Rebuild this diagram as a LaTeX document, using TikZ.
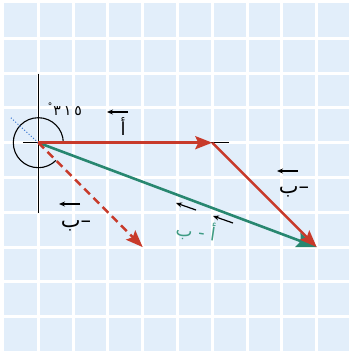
\documentclass[tikz,border=0pt]{standalone}
\usepackage{fontspec}
\newfontfamily\arabicfont[Script=Arabic]{DejaVu Sans}
\TeXXeTstate=1
\usetikzlibrary{arrows.meta,calc}
\definecolor{gridblue}{RGB}{226,238,250}
\definecolor{vred}{RGB}{200,58,42}
\definecolor{vgreen}{RGB}{40,135,112}
\definecolor{lgreen}{RGB}{62,155,132}
\definecolor{dotblue}{RGB}{60,120,210}
\tikzset{
  axisline/.style={black, line width=1.1pt},
  redvec/.style={vred, line width=2.6pt, -{Stealth[length=17pt,width=13pt,inset=3pt]}},
  greenvec/.style={vgreen, line width=2.6pt, -{Stealth[length=20pt,width=15pt,inset=3pt]}},
  lbl/.style={font=\arabicfont\fontsize{18}{21}\selectfont, inner sep=0pt},
  blbl/.style={font=\arabicfont\fontsize{21}{24}\selectfont, inner sep=0pt},
  anglbl/.style={font=\arabicfont\fontsize{14}{16}\selectfont, inner sep=0pt},
  lblarrow/.style={black, line width=1.2pt, -{Stealth[length=6pt,width=5pt]}},
  gridline/.style={white, line width=3pt}
}
\begin{document}
\begin{tikzpicture}[x=1pt,y=-1pt]
\useasboundingbox (0,0) rectangle (349,353);
\fill[gridblue] (4,3.5) rectangle (349,351);
\foreach \k in {0,...,8}{
  \draw[gridline] ({38.3+34.8*\k},3.5) -- ({38.3+34.8*\k},351);
  \draw[gridline] (4,{38.3+34.8*\k}) -- (349,{38.3+34.8*\k});
}
\coordinate (O) at (38.3,142.7);
\coordinate (A) at (212.3,142.7);
\coordinate (B) at (316.7,247.1);
\coordinate (D) at (142.7,247.1);
\coordinate (vtop) at (38.3,73.5);
\coordinate (vbot) at (38.3,213);
\coordinate (hl) at (23,142.7);
\coordinate (hr) at (229,142.7);
\coordinate (dl) at (10,117);
\coordinate (arcstart) at (63.3,142.7);
% axes and angle
\draw[axisline] (vtop) -- (vbot);
\draw[axisline] (hl) -- (hr);
\draw[axisline] (arcstart) arc[start angle=0, end angle=-315, radius=25];
\draw[dotblue, dotted, line width=1pt] (O) -- (dl);
% vectors
\draw[greenvec] (O) -- (B);
\draw[redvec] (O) -- (A);
\draw[redvec] (A) -- (B);
\draw[redvec, dash pattern=on 8pt off 5pt] (O) -- (D);
% labels
\node[anglbl] (ang) at (65,109) {\raisebox{6pt}{\fontsize{9}{9}\selectfont °}\kern1pt ٣\kern3pt ١\kern3pt ٥};
\node[lbl] (la) at (123,127) {أ};
\draw[lblarrow] ($(la)+(5,-15)$) -- ++(-21,0);
\node[blbl] (lbd) at (76,226) {\beginR –ب\endR};
\draw[lblarrow] ($(lbd)+(4,-22)$) -- ++(-21,0);
\node[blbl] (lbr) at (294,192) {\beginR –ب\endR};
\draw[lblarrow] ($(lbr)+(4,-21)$) -- ++(-21,0);
\node[lbl, text=lgreen, rotate=-8] (lg) at (196,231) {\beginR أ - ب\endR};
\draw[lblarrow] ($(lg)+(0,-21)$) -- ++(-20,-7);
\draw[lblarrow] ($(lg)+(37,-8)$) -- ++(-20,-7);
\end{tikzpicture}
\end{document}
